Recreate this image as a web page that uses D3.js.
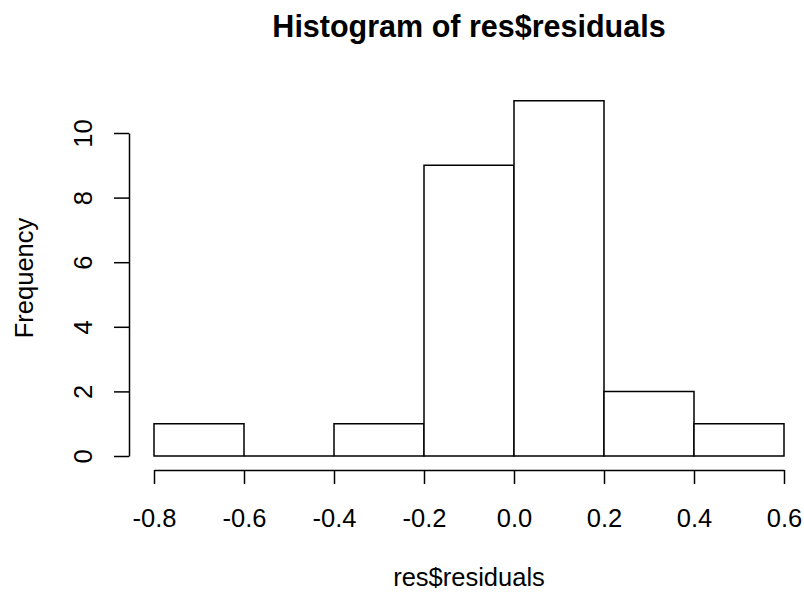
<!doctype html>
<html>
<head>
    <title>Histogram of res$residuals</title>
    <script src="https://d3js.org/d3.v7.min.js"></script>
    <style>
      body {
        padding: 0px;
        margin: 0px;
        background: white;
      }
      text {
        font-family: "Liberation Sans", Arial, sans-serif;
        fill: black;
      }
      path.bar {
        fill: white;
        stroke: black;
        stroke-width: 1.5;
      }
      .axis path, .axis line {
        stroke: black;
        stroke-width: 1.5;
      }
    </style>
</head>
<body>
  <div id="container"></div>
  <script>

  // histogram data
  var breaks = [-0.8, -0.6, -0.4, -0.2, 0.0, 0.2, 0.4, 0.6]
  var counts = [1, 0, 1, 9, 11, 2, 1]
  var xTicks = [-0.8, -0.6, -0.4, -0.2, 0.0, 0.2, 0.4, 0.6]
  var xTickLabels = ["-0.8", "-0.6", "-0.4", "-0.2", "0.0", "0.2", "0.4", "0.6"]
  var yTicks = [0, 2, 4, 6, 8, 10]

  var vizWidth = 804,
      vizHeight = 592,
      labelSize = "25.5px"

  var viz = d3.select("#container").append("svg")
              .attr("width", vizWidth)
              .attr("height", vizHeight)

  var x = d3.scaleLinear().domain([-0.8, 0.6]).range([154, 784])
  var y = d3.scaleLinear().domain([0, 10]).range([456, 133])

  var bins = counts.map(function(c, i) { return {x0: breaks[i], x1: breaks[i + 1], n: c} })

  // bars as closed paths so an empty bin still shows its flat line
  viz.append("g").selectAll("path").data(bins)
    .enter().append("path")
    .classed("bar", true)
    .attr("d", function(d) {
      return "M" + x(d.x0) + "," + y(0) + "V" + y(d.n) + "H" + x(d.x1) + "V" + y(0) + "Z"
    })

  // x axis
  var xAxis = viz.append("g")
      .attr("class", "axis")
      .attr("transform", "translate(0,470)")
      .call(d3.axisBottom(x).tickValues(xTicks).tickSize(14).tickSizeOuter(0)
              .tickFormat(function(d, i) { return xTickLabels[i] }))
  xAxis.selectAll("text")
      .attr("y", 57).attr("dy", 0)
      .style("font-size", labelSize)

  // y axis
  var yAxis = viz.append("g")
      .attr("class", "axis")
      .attr("transform", "translate(129,0)")
      .call(d3.axisLeft(y).tickValues(yTicks).tickSize(15).tickSizeOuter(0))
  yAxis.selectAll("text")
      .attr("x", 0).attr("dy", 0)
      .attr("text-anchor", "middle")
      .attr("transform", "translate(-37,0) rotate(-90)")
      .style("font-size", labelSize)
  yAxis.attr("font-family", null).attr("font-size", null)
  xAxis.attr("font-family", null).attr("font-size", null)

  // titles
  viz.append("text")
      .attr("x", 469).attr("y", 37)
      .attr("text-anchor", "middle")
      .style("font-size", "30.5px")
      .style("font-weight", "bold")
      .text("Histogram of res$residuals")

  viz.append("text")
      .attr("x", 469).attr("y", 586)
      .attr("text-anchor", "middle")
      .style("font-size", labelSize)
      .text("res$residuals")

  viz.append("text")
      .attr("transform", "translate(33,278) rotate(-90)")
      .attr("text-anchor", "middle")
      .style("font-size", labelSize)
      .text("Frequency")

  </script>
</body>
</html>
